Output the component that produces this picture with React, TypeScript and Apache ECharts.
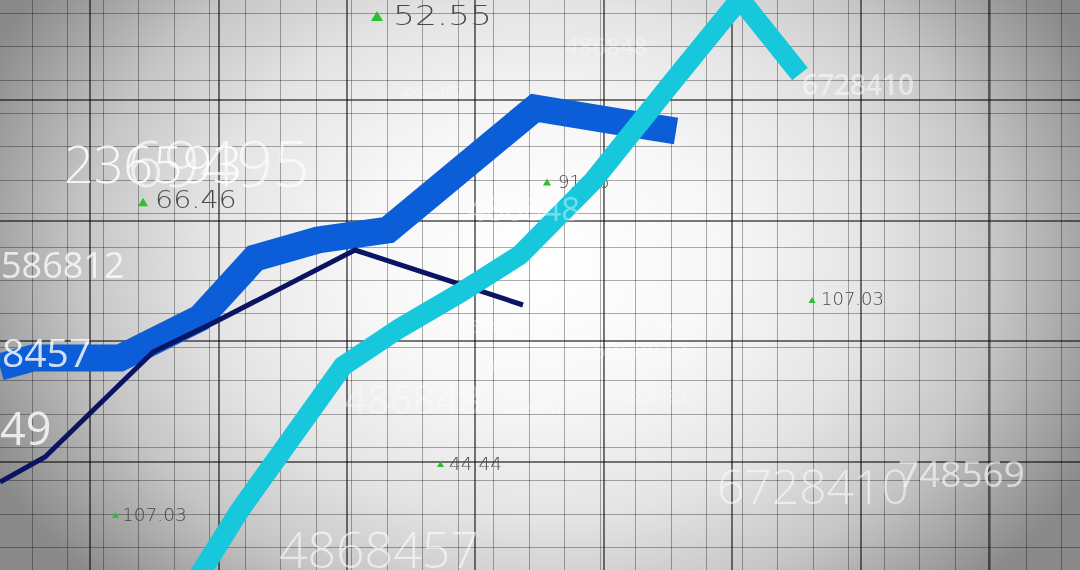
import React, { useEffect, useRef } from "react";
import * as echarts from "echarts";

// ---- data (x: time units, y: price units) ----
const blueTrend: [number, number][] = [
  [0, 20.3], [3.3, 21.2], [12.0, 21.2], [20.0, 25.2], [25.5, 31.2],
  [31.8, 33.0], [38.8, 34.0], [53.5, 46.2], [62.0, 44.8], [67.6, 43.9],
];
const navyTrend: [number, number][] = [
  [0, 8.8], [4.5, 11.3], [15.3, 21.8], [21.5, 24.8], [35.5, 32.0], [52.3, 26.5],
];
const cyanTrend: [number, number][] = [
  [19.6, -1.0], [24.0, 6.0], [34.3, 20.4], [40.0, 24.2], [46.0, 27.7],
  [52.0, 31.5], [59.3, 38.9], [67.4, 49.0], [74.0, 57.1], [80.0, 49.6],
];
const tickerValues = ["52.55", "66.46", "91.16", "107.03", "44.44", "107.03"];
const backdropNumbers = [
  "236593", "69495", "586812", "8457", "49", "486848",
  "486848", "4868457", "6728410", "748569", "6728410",
];
const faintNumbers = ["5868812", "36858", "4868457", "486848", "36858", "4868457", "486848", "4868457"];

// ---- layout (positions / styles) ----
const tickerLayout = [
  { tx: 377, ty: 16, ts: 6, x: 393, y: 16, size: 26, sx: 1.33 },
  { tx: 143, ty: 202, ts: 5, x: 155, y: 200, size: 24, sx: 1.19 },
  { tx: 547, ty: 182, ts: 4, x: 558, y: 181, size: 18, sx: 1.0 },
  { tx: 812, ty: 300, ts: 3.5, x: 821, y: 299, size: 17, sx: 1.06 },
  { tx: 440.5, ty: 464, ts: 3.5, x: 449, y: 463.5, size: 17, sx: 1.09 },
  { tx: 115.5, ty: 515, ts: 3.5, x: 122, y: 515, size: 18, sx: 1.03 },
];
const backdropLayout = [
  { x: 64, y: 162, size: 52, w: 300, a: 0.85, align: "left" },
  { x: 127, y: 162, size: 64, w: 300, a: 0.65, align: "left" },
  { x: 1, y: 264, size: 36, w: 400, a: 0.75, align: "left" },
  { x: 2, y: 351, size: 39, w: 400, a: 0.8, align: "left" },
  { x: 0, y: 427, size: 45, w: 400, a: 0.8, align: "left" },
  { x: 467, y: 208, size: 33, w: 400, a: 0.4, align: "left" },
  { x: 344, y: 398, size: 40, w: 400, a: 0.3, align: "left" },
  { x: 279, y: 549, size: 50, w: 300, a: 0.6, align: "left" },
  { x: 717, y: 485, size: 48, w: 300, a: 0.55, align: "left" },
  { x: 898, y: 472, size: 37, w: 400, a: 0.6, align: "left" },
  { x: 802, y: 84, size: 28, w: 600, a: 0.5, align: "left" },
];
const faintLayout = [
  { x: 592, y: 349, size: 24 },
  { x: 654, y: 324, size: 16 },
  { x: 616, y: 396, size: 18 },
  { x: 448, y: 326, size: 18 },
  { x: 482, y: 366, size: 16 },
  { x: 497, y: 407, size: 17 },
  { x: 565, y: 45, size: 24 },
  { x: 400, y: 92, size: 16 },
];

const W = 1080;
const H = 570;

export default function App() {
  const ref = useRef<HTMLDivElement>(null);

  useEffect(() => {
    if (!ref.current) return;
    const chart = echarts.init(ref.current, undefined, { renderer: "svg" });

    const bgScale = 1.3;
    const graphics: any[] = [
      {
        type: "rect",
        z: -10,
        x: 0,
        y: 0,
        scaleX: bgScale,
        shape: { x: 0, y: 0, width: W / bgScale + 2, height: H },
        style: {
          fill: new echarts.graphic.RadialGradient(
            540 / bgScale,
            260,
            470,
            [
              { offset: 0, color: "#ffffff" },
              { offset: 0.3, color: "#f7f7f7" },
              { offset: 0.55, color: "#e4e4e4" },
              { offset: 0.75, color: "#c6c6c6" },
              { offset: 0.9, color: "#a2a2a2" },
              { offset: 1, color: "#8a8a8a" },
            ],
            true
          ),
        },
        silent: true,
      },
    ];

    tickerValues.forEach((t, i) => {
      const l = tickerLayout[i];
      graphics.push({
        type: "polygon",
        z: 1,
        shape: {
          points: [
            [l.tx - l.ts, l.ty + l.ts * 0.85],
            [l.tx + l.ts, l.ty + l.ts * 0.85],
            [l.tx, l.ty - l.ts * 0.85],
          ],
        },
        style: { fill: "#2bc12b" },
        silent: true,
      });
      graphics.push({
        type: "text",
        z: 1,
        x: l.x,
        y: l.y,
        scaleX: l.sx,
        style: {
          text: t,
          fontFamily: "DejaVu Sans",
          fontWeight: 200,
          fontSize: l.size,
          fill: "#4a4a4a",
          align: "left",
          textAlign: "left",
          verticalAlign: "middle",
          textVerticalAlign: "middle",
        },
        silent: true,
      });
    });

    faintNumbers.forEach((t, i) => {
      const l = faintLayout[i];
      graphics.push({
        type: "text",
        z: 10,
        x: l.x,
        y: l.y,
        style: {
          text: t,
          fontFamily: "Open Sans",
          fontWeight: 600,
          fontSize: l.size,
          fill: "rgba(255,255,255,0.28)",
          align: "left",
          textAlign: "left",
          verticalAlign: "middle",
          textVerticalAlign: "middle",
        },
        silent: true,
      });
    });

    backdropNumbers.forEach((t, i) => {
      const l = backdropLayout[i];
      graphics.push({
        type: "text",
        z: 10,
        x: l.x,
        y: l.y,
        style: {
          text: t,
          fontFamily: "Open Sans",
          fontWeight: l.w,
          fontSize: l.size,
          fill: `rgba(255,255,255,${l.a})`,
          align: l.align,
          textAlign: l.align,
          verticalAlign: "middle",
          textVerticalAlign: "middle",
        },
        silent: true,
      });
    });

    const hiddenParts = {
      axisLine: { show: false },
      axisTick: { show: false },
      axisLabel: { show: false },
    };
    const minorLine = { show: true, lineStyle: { color: "rgba(0,0,0,0.32)", width: 1 } };
    const majorLine = { show: true, lineStyle: { color: "rgba(0,0,0,0.52)", width: 2 } };

    const option: any = {
      animation: false,
      grid: [
        { left: 0, top: 0, width: W, height: H, outerBoundsMode: "none", containLabel: false },
        { left: -3.5, top: -20.4, width: 35.5 * 31, height: 33.4 * 18, outerBoundsMode: "none", containLabel: false },
        { left: -38.4, top: -20.5, width: 128.4 * 9, height: 120.5 * 5, outerBoundsMode: "none", containLabel: false },
      ],
      xAxis: [
        { gridIndex: 0, type: "value", min: 0, max: 108, show: false },
        { gridIndex: 1, type: "value", min: 0, max: 31, interval: 1, ...hiddenParts, splitLine: minorLine },
        { gridIndex: 2, type: "value", min: 0, max: 9, interval: 1, ...hiddenParts, splitLine: majorLine },
      ],
      yAxis: [
        { gridIndex: 0, type: "value", min: 0, max: 57, show: false },
        { gridIndex: 1, type: "value", min: 0, max: 18, interval: 1, inverse: true, ...hiddenParts, splitLine: minorLine },
        { gridIndex: 2, type: "value", min: 0, max: 5, interval: 1, inverse: true, ...hiddenParts, splitLine: majorLine },
      ],
      graphic: { elements: graphics },
      series: [
        {
          type: "line",
          xAxisIndex: 0,
          yAxisIndex: 0,
          data: blueTrend,
          symbol: "none",
          clip: true,
          z: 3,
          lineStyle: { color: "#0b5ed8", width: 27, join: "miter", cap: "butt" },
        },
        {
          type: "line",
          xAxisIndex: 0,
          yAxisIndex: 0,
          data: navyTrend,
          symbol: "none",
          clip: true,
          z: 4,
          lineStyle: { color: "#0a1462", width: 5, join: "miter", cap: "butt" },
        },
        {
          type: "line",
          xAxisIndex: 0,
          yAxisIndex: 0,
          data: cyanTrend,
          symbol: "none",
          clip: true,
          z: 5,
          lineStyle: { color: "#17c8dc", width: 20, join: "miter", cap: "butt" },
        },
      ],
    };

    chart.setOption(option);
    return () => chart.dispose();
  }, []);

  return (
    <div
      ref={ref}
      style={{ position: "fixed", left: 0, top: 0, width: W, height: H }}
    />
  );
}
